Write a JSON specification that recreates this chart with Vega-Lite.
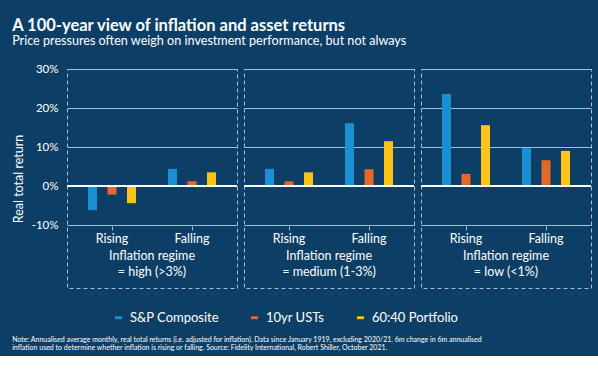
{
  "$schema": "https://vega.github.io/schema/vega-lite/v6.json",
  "background": "#0d3f66",
  "padding": {"left": 12, "top": 17, "right": 10, "bottom": 5},
  "title": {
    "text": "A 100-year view of inflation and asset returns",
    "subtitle": "Price pressures often weigh on investment performance, but not always",
    "anchor": "start",
    "font": "Lato",
    "fontSize": 16.5,
    "fontWeight": "bold",
    "color": "#ffffff",
    "subtitleFont": "Lato",
    "subtitleFontSize": 12.6,
    "subtitleColor": "#ffffff",
    "subtitlePadding": 1,
    "offset": 15
  },
  "vconcat": [
    {
      "data": {
        "values": [
          {"regime": "high", "trend": "Rising", "series": "S&P Composite", "value": -6.2},
          {"regime": "high", "trend": "Rising", "series": "10yr USTs", "value": -2.2},
          {"regime": "high", "trend": "Rising", "series": "60:40 Portfolio", "value": -4.4},
          {"regime": "high", "trend": "Falling", "series": "S&P Composite", "value": 4.4},
          {"regime": "high", "trend": "Falling", "series": "10yr USTs", "value": 1.2},
          {"regime": "high", "trend": "Falling", "series": "60:40 Portfolio", "value": 3.5},
          {"regime": "medium", "trend": "Rising", "series": "S&P Composite", "value": 4.4},
          {"regime": "medium", "trend": "Rising", "series": "10yr USTs", "value": 1.2},
          {"regime": "medium", "trend": "Rising", "series": "60:40 Portfolio", "value": 3.5},
          {"regime": "medium", "trend": "Falling", "series": "S&P Composite", "value": 16.1},
          {"regime": "medium", "trend": "Falling", "series": "10yr USTs", "value": 4.3},
          {"regime": "medium", "trend": "Falling", "series": "60:40 Portfolio", "value": 11.5},
          {"regime": "low", "trend": "Rising", "series": "S&P Composite", "value": 23.6},
          {"regime": "low", "trend": "Rising", "series": "10yr USTs", "value": 3.1},
          {"regime": "low", "trend": "Rising", "series": "60:40 Portfolio", "value": 15.6},
          {"regime": "low", "trend": "Falling", "series": "S&P Composite", "value": 9.7},
          {"regime": "low", "trend": "Falling", "series": "10yr USTs", "value": 6.6},
          {"regime": "low", "trend": "Falling", "series": "60:40 Portfolio", "value": 9.0},
          {"regime": "high", "regimeHead": "Inflation regime", "regimeSub": "= high (>3%)"},
          {"regime": "medium", "regimeHead": "Inflation regime", "regimeSub": "= medium (1-3%)"},
          {"regime": "low", "regimeHead": "Inflation regime", "regimeSub": "= low (<1%)"}
        ]
      },
      "title": {
        "text": [
          "Note: Annualised average monthly, real total returns (i.e. adjusted for inflation). Data since January 1919, excluding 2020/21. 6m change in 6m annualised",
          "inflation used to determine whether inflation is rising or falling. Source: Fidelity International, Robert Shiller, October 2021."
        ],
        "orient": "bottom",
        "anchor": "start",
        "font": "Lato",
        "fontSize": 7,
        "fontWeight": "normal",
        "color": "#ffffff",
        "lineHeight": 8,
        "offset": 47
      },
      "facet": {
        "column": {"field": "regime", "type": "nominal", "sort": ["high", "medium", "low"], "header": null}
      },
      "spacing": 3,
      "spec": {
        "width": 170,
        "height": 219,
        "layer": [
          {
            "transform": [{"filter": "isValid(datum.series)"}],
            "mark": {"type": "bar"},
            "encoding": {
              "x": {
                "field": "trend",
                "type": "nominal",
                "sort": ["Rising", "Falling"],
                "scale": {"paddingInner": 0, "paddingOuter": 0.0625},
                "axis": {
                  "title": null,
                  "labelAngle": 0,
                  "labelFont": "Lato",
                  "labelFontSize": 12.5,
                  "labelColor": "#ffffff",
                  "labelPadding": 2,
                  "domain": false,
                  "ticks": true,
                  "tickColor": "#9cc3e0",
                  "tickSize": 4,
                  "offset": -63
                }
              },
              "xOffset": {
                "field": "series",
                "type": "nominal",
                "sort": ["S&P Composite", "10yr USTs", "60:40 Portfolio"],
                "scale": {"paddingInner": 0.54, "paddingOuter": 0.82}
              },
              "y": {
                "field": "value",
                "type": "quantitative",
                "scale": {"domain": [-26.15, 30], "nice": false, "zero": false},
                "axis": {
                  "values": [-10, 0, 10, 20, 30],
                  "labelExpr": "datum.value + '%'",
                  "title": "Real total return",
                  "titleFont": "Lato",
                  "titleFontSize": 12.5,
                  "titleFontWeight": "normal",
                  "titleColor": "#ffffff",
                  "titlePadding": 6,
                  "labelFont": "Lato",
                  "labelFontSize": 11.5,
                  "labelColor": "#ffffff",
                  "labelPadding": 7,
                  "ticks": false,
                  "domain": false,
                  "grid": true,
                  "gridColor": "#9cc3e0",
                  "gridWidth": 1.2,
                  "gridOpacity": 1
                }
              },
              "color": {
                "field": "series",
                "type": "nominal",
                "sort": ["S&P Composite", "10yr USTs", "60:40 Portfolio"],
                "scale": {
                  "domain": ["S&P Composite", "10yr USTs", "60:40 Portfolio"],
                  "range": ["#1a90d3", "#e4692a", "#fcc318"]
                },
                "legend": {
                  "title": null,
                  "orient": "none",
                  "direction": "horizontal",
                  "legendX": 45,
                  "legendY": 242,
                  "columnPadding": 29,
                  "symbolType": "M-1,-0.4L1,-0.4L1,0.4L-1,0.4Z",
                  "symbolSize": 49,
                  "symbolStrokeWidth": 0,
                  "labelFont": "Lato",
                  "labelFontSize": 13,
                  "labelColor": "#ffffff",
                  "labelOffset": 5
                }
              }
            }
          },
          {
            "transform": [{"filter": "isValid(datum.regimeSub)"}],
            "mark": {"type": "rule", "color": "#ffffff", "strokeWidth": 2},
            "encoding": {"y": {"datum": 0}}
          },
          {
            "transform": [{"filter": "isValid(datum.regimeSub)"}],
            "mark": {"type": "text", "font": "Lato", "fontSize": 12.5, "color": "#ffffff", "align": "center", "baseline": "middle"},
            "encoding": {
              "x": {"datum": "Falling", "type": "nominal", "bandPosition": 0},
              "y": {"datum": -18},
              "text": {"field": "regimeHead", "type": "nominal"}
            }
          },
          {
            "transform": [{"filter": "isValid(datum.regimeSub)"}],
            "mark": {"type": "text", "font": "Lato", "fontSize": 12.5, "color": "#ffffff", "align": "center", "baseline": "middle"},
            "encoding": {
              "x": {"datum": "Falling", "type": "nominal", "bandPosition": 0},
              "y": {"datum": -22},
              "text": {"field": "regimeSub", "type": "nominal"}
            }
          }
        ]
      }
    }
  ],
  "config": {
    "view": {"stroke": "#a9bfd3", "strokeDash": [4, 3], "strokeWidth": 1},
    "font": "Lato"
  }
}
